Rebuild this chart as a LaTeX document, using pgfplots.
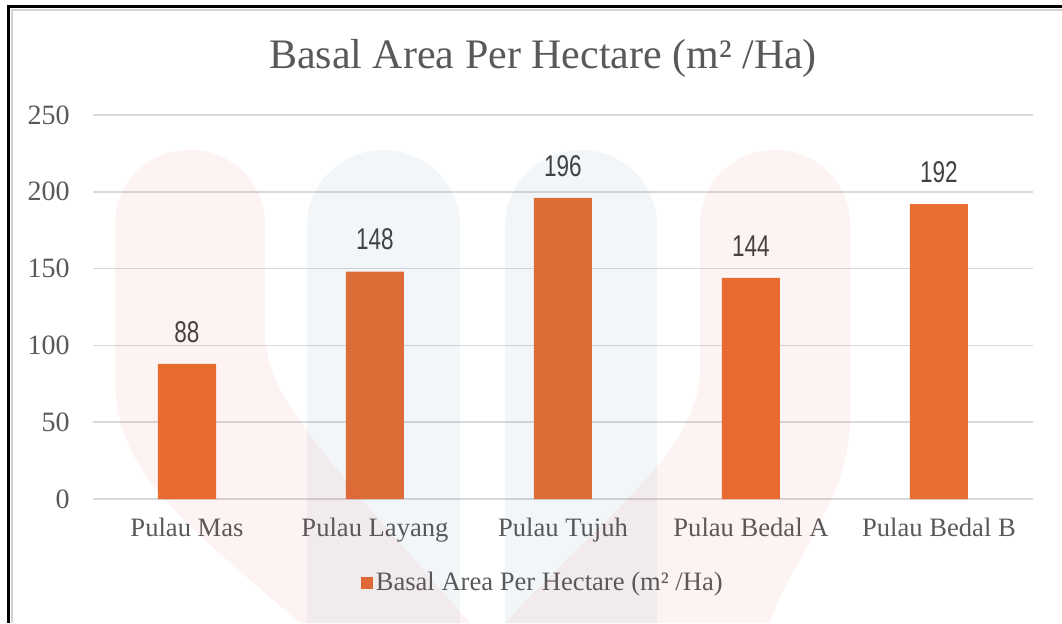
\documentclass[border=0pt]{standalone}
\usepackage{pgfplots}
\pgfplotsset{compat=1.18}
\usepackage{fontspec}
\setmainfont{Liberation Serif}
\newfontfamily\lblfont[FakeStretch=0.75]{Liberation Sans}

\definecolor{barorange}{RGB}{232,110,50}
\definecolor{txtgray}{RGB}{89,89,89}
\definecolor{lblgray}{RGB}{64,64,64}
\definecolor{gridgray}{RGB}{217,217,217}
\definecolor{wmred}{RGB}{225,45,45}
\definecolor{wmblue}{RGB}{45,95,150}

\begin{document}
\begin{tikzpicture}
\useasboundingbox (0,0) rectangle (531pt,-311.5pt);
\begin{axis}[
    at={(46.5pt,-249.5pt)}, anchor=south west,
    scale only axis,
    width=470pt, height=192pt,
    xmin=-0.5, xmax=4.5,
    ymin=0, ymax=250,
    xtick={0,1,2,3,4},
    xticklabels={Pulau Mas, Pulau Layang, Pulau Tujuh, Pulau Bedal A, Pulau Bedal B},
    ytick={0,50,100,150,200,250},
    ymajorgrids=true,
    grid style={gridgray, line width=0.75pt},
    axis line style={draw=none},
    major tick length=0pt,
    /pgf/number format/assume math mode=true,
    yticklabel style={font=\fontsize{14}{14}\selectfont, text=txtgray, inner sep=0pt, xshift=-11.5pt},
    xticklabel style={font=\fontsize{13.3}{13.3}\selectfont, text=txtgray, inner sep=0pt, yshift=-9.5pt},
    legend style={at={(0.479,-0.219)}, anchor=center, draw=none, fill=none,
        font=\fontsize{13.3}{13.3}\selectfont, text=txtgray,
        nodes={inner sep=1.5pt}},
    legend image code/.code={\fill[barorange] (-1.5pt,-3pt) rectangle (4.5pt,3pt);},
]
\addplot[ybar, bar width=29pt, fill=barorange, draw=none,
    nodes near coords,
    every node near coord/.append style={font=\lblfont\fontsize{15}{15}\selectfont,
        text=lblgray, inner sep=0pt, anchor=south, yshift=10.5pt}]
    coordinates {(0,88) (1,148) (2,196) (3,144) (4,192)};
\addlegendentry{Basal Area Per Hectare (m² /Ha)}
\end{axis}

% title
\node[font=\fontsize{21}{21}\selectfont, text=txtgray, anchor=base, inner sep=0pt]
    at (271.5pt,-34pt) {Basal Area Per Hectare (m² /Ha)};

% faint logo watermark, pixel units
\begin{scope}[x=0.5pt, y=-0.5pt]
\fill[wmblue, opacity=0.06] (307,623) [rounded corners=38pt] -- (307,150) -- (460,150) [sharp corners] -- (460,623) -- cycle;
\fill[wmblue, opacity=0.06] (505,623) [rounded corners=38pt] -- (505,150) -- (657,150) [sharp corners] -- (657,623) -- cycle;
\fill[wmred, opacity=0.055] (300,623) .. controls (180,520) and (115,470) .. (115,380)
    [rounded corners=37pt] -- (115,150) -- (265,150) [sharp corners] -- (265,330)
    .. controls (265,390) and (300,430) .. (470,623) -- cycle;
\fill[wmred, opacity=0.055] (505,623) .. controls (600,520) and (700,450) .. (700,370)
    [rounded corners=37pt] -- (700,150) -- (850,150) [sharp corners] -- (850,420)
    .. controls (850,500) and (790,560) .. (770,623) -- cycle;
\end{scope}

% frame
\draw[gray!35, line width=0.75pt] (6pt,-311.5pt) -- (6pt,-5pt) -- (531pt,-5pt);
\draw[black, line width=1.5pt] (4.25pt,-311.5pt) -- (4.25pt,-3pt) -- (531pt,-3pt);
\end{tikzpicture}
\end{document}
